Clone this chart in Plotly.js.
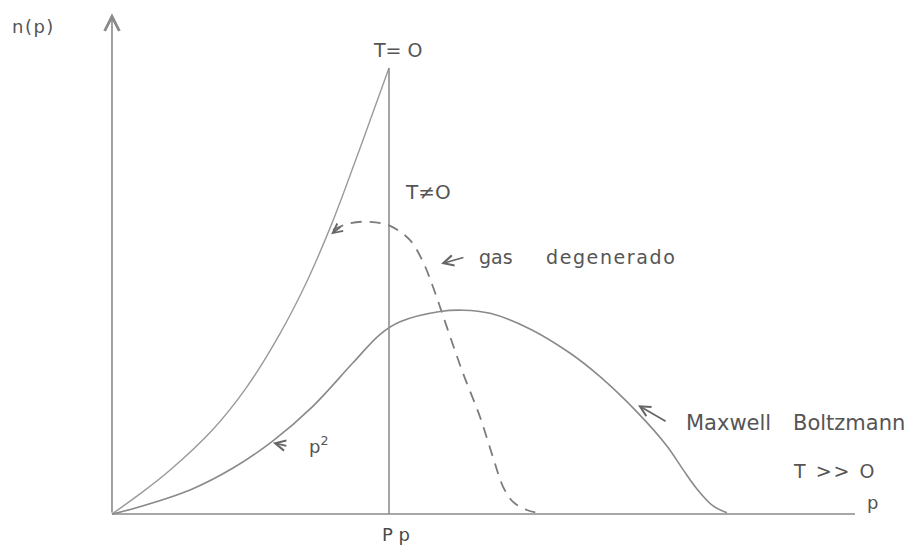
<!DOCTYPE html>
<html>
<head>
<meta charset="utf-8">
<script src="https://cdn.plot.ly/plotly-3.0.1.min.js"></script>
<style>
  html, body { margin: 0; padding: 0; background: #fff; }
  #chart { width: 910px; height: 547px; }
</style>
</head>
<body>
<div id="chart"></div>
<script>
// Momentum distribution n(p) sketches; p in units of the Fermi momentum Pp.
const Pp = 1;

// T = 0 : rises up to Pp, then drops vertically to zero
const tZeroP = [0, 0.101, 0.209, 0.365, 0.487, 0.606, 0.704, 0.787, 0.841, 0.917, 1.0];
const tZeroN = [0, 0.045, 0.098, 0.190, 0.285, 0.404, 0.522, 0.641, 0.728, 0.857, 1.0];
const stepN = [1.0, 0];

// T ≠ 0 : degenerate gas (dashed)
const degP = [0.798, 0.859, 0.931, 1.004, 1.076, 1.123, 1.159, 1.209, 1.267, 1.329, 1.375, 1.412, 1.448, 1.498, 1.545];
const degN = [0.637, 0.652, 0.655, 0.646, 0.614, 0.565, 0.509, 0.419, 0.316, 0.217, 0.128, 0.061, 0.027, 0.009, 0.002];

// T >> 0 : Maxwell-Boltzmann
const mbP = [0, 0.076, 0.282, 0.437, 0.581, 0.726, 0.870, 0.968, 1.040, 1.184, 1.267, 1.365, 1.509, 1.653, 1.762, 1.895, 2.004, 2.061, 2.112, 2.170, 2.220];
const mbN = [0, 0.012, 0.054, 0.103, 0.164, 0.242, 0.339, 0.403, 0.431, 0.454, 0.457, 0.450, 0.415, 0.361, 0.308, 0.229, 0.152, 0.100, 0.056, 0.018, 0.003];

// Axis extents
const pAxisEnd = 2.682;
const nAxisTop = 1.123;

const ink = '#8a8a8a';
const textInk = '#555555';
const font = 'DejaVu Sans, sans-serif';

const traces = [
  { x: tZeroP, y: tZeroN, mode: 'lines', line: { color: '#9a9a9a', width: 1.4, shape: 'spline', smoothing: 1.0 }, hoverinfo: 'skip' },
  { x: [Pp, Pp], y: stepN, mode: 'lines', line: { color: '#8f8f8f', width: 1.6 }, hoverinfo: 'skip' },
  { x: degP, y: degN, mode: 'lines', line: { color: '#7c7c7c', width: 1.8, dash: '11px,8px', shape: 'spline', smoothing: 1.0 }, hoverinfo: 'skip' },
  { x: mbP, y: mbN, mode: 'lines', line: { color: ink, width: 1.6, shape: 'spline', smoothing: 1.0 }, hoverinfo: 'skip' }
];

function arrow(x0, y0, x1, y1, size) {
  return { x: x1, y: y1, ax: x0, ay: y0, xref: 'x', yref: 'y', axref: 'x', ayref: 'y',
           text: '', showarrow: true, arrowhead: 5, arrowsize: size || 1, arrowwidth: 1.7,
           arrowcolor: '#666666', standoff: 0, startstandoff: 0 };
}
function label(txt, x, y, size, extra) {
  return Object.assign({ x: x, y: y, xref: 'x', yref: 'y', text: txt, showarrow: false,
           xanchor: 'center', yanchor: 'middle',
           font: { family: font, size: size, color: textInk } }, extra || {});
}

const annotations = [
  // axes: n(p) with arrow, p axis
  Object.assign(arrow(0, 0, 0, nAxisTop, 1.8), { arrowcolor: '#8a8a8a', arrowwidth: 1.6 }),
  label('n(p)', -0.285, 1.094, 18),
  label('p', 2.747, 0.025, 18),
  label('P p', 1.025, -0.047, 18, { font: { family: font, size: 18, color: '#4a4a4a' } }),
  // curve labels
  label('T= O', 1.032, 1.040, 19),
  label('T≠O', 1.141, 0.722, 20),
  label('gas', 1.388, 0.576, 19),
  label('degenerado', 1.803, 0.576, 19),
  label('Maxwell', 2.224, 0.203, 21),
  label('Boltzmann', 2.659, 0.203, 21),
  label('T >> O', 2.610, 0.096, 19),
  label('p<sup>2</sup>', 0.745, 0.155, 18),
  // pointer arrows
  arrow(1.274, 0.576, 1.188, 0.561, 1.2),
  arrow(0.635, 0.152, 0.581, 0.160, 1.2),
  arrow(2.004, 0.206, 1.899, 0.244, 1.2),
  arrow(0.830, 0.646, 0.791, 0.627, 1.1)
];

const shapes = [
  { type: 'line', xref: 'x', yref: 'y', x0: 0, y0: 0, x1: pAxisEnd, y1: 0,
    line: { color: ink, width: 1.6 } }
];

const layout = {
  width: 910, height: 547,
  margin: { l: 0, r: 0, t: 0, b: 0 },
  paper_bgcolor: '#ffffff', plot_bgcolor: '#ffffff',
  showlegend: false,
  xaxis: { range: [-0.4043, 2.8809], visible: false, fixedrange: true },
  yaxis: { range: [-0.074, 1.1525], visible: false, fixedrange: true },
  annotations: annotations,
  shapes: shapes
};

Plotly.newPlot('chart', traces, layout, { staticPlot: true }).then(function () {
  // widen the lettering of the hand-lettered labels
  const spacing = { 'degenerado': '1.6px', 'n(p)': '1.5px', 'T >> O': '2px' };
  document.querySelectorAll('.annotation-text').forEach(function (t) {
    const s = spacing[t.textContent];
    if (s) t.style.letterSpacing = s;
  });
});
</script>
</body>
</html>
